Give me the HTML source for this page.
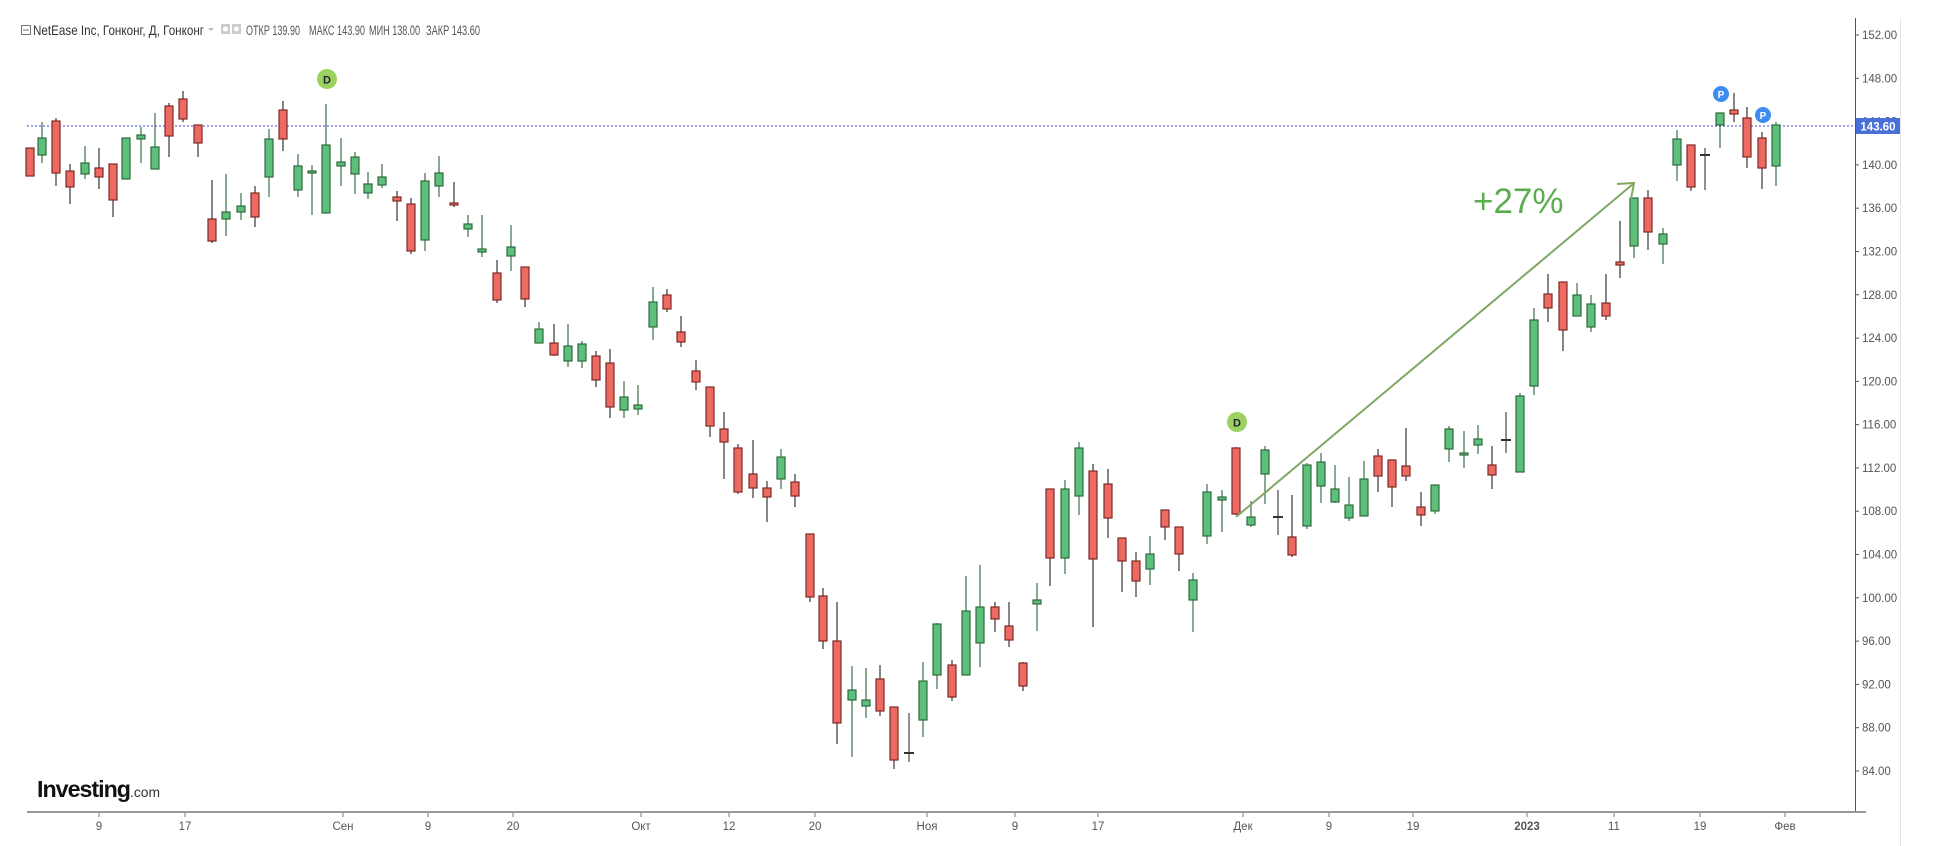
<!DOCTYPE html>
<html><head><meta charset="utf-8"><style>
html,body{margin:0;padding:0;background:#fff;width:1934px;height:846px;overflow:hidden}
svg{display:block}
text{font-family:"Liberation Sans",sans-serif}
</style></head><body>
<svg id="s" width="1934" height="846" xmlns="http://www.w3.org/2000/svg">
<rect width="1934" height="846" fill="#fff"/>
<!-- header -->
<rect x="21.5" y="25.5" width="9" height="9" fill="none" stroke="#777"/>
<line x1="23" y1="30" x2="29" y2="30" stroke="#777"/>
<text x="33" y="35" font-size="14" fill="#333" textLength="171" lengthAdjust="spacingAndGlyphs">NetEase Inc, Гонконг, Д, Гонконг</text>
<path d="M208 28 l3 3 l3 -3z" fill="#bbb"/>
<rect x="221" y="24" width="9" height="10" fill="#ccc"/><rect x="232" y="24" width="9" height="10" fill="#ccc"/>
<circle cx="225.5" cy="29" r="2.5" fill="#fff"/><circle cx="236.5" cy="29" r="2.5" fill="#fff"/>
<g font-size="13.5" fill="#555">
<text x="246" y="35" textLength="54" lengthAdjust="spacingAndGlyphs">ОТКР 139.90</text>
<text x="309" y="35" textLength="56" lengthAdjust="spacingAndGlyphs">МАКС 143.90</text>
<text x="369" y="35" textLength="51" lengthAdjust="spacingAndGlyphs">МИН 138.00</text>
<text x="426" y="35" textLength="54" lengthAdjust="spacingAndGlyphs">ЗАКР 143.60</text>
</g>
<!-- price line -->
<line x1="27" y1="126" x2="1855" y2="126" stroke="#3b46c8" stroke-width="1" stroke-dasharray="2,2"/>
<!-- axes -->
<line x1="1855.5" y1="18" x2="1855.5" y2="812" stroke="#555" stroke-width="1"/>
<line x1="1900.5" y1="18" x2="1900.5" y2="846" stroke="#e4e4e4" stroke-width="1"/>
<line x1="27" y1="812" x2="1866" y2="812" stroke="#999" stroke-width="2"/>
<g id="yl" font-size="11.5" fill="#555"></g>
<g id="xl" font-size="11.5" fill="#555"></g>
<rect x="1856" y="118" width="44" height="16" fill="#4b6fd9"/>
<text x="1878" y="130.5" font-size="11.5" font-weight="bold" fill="#fff" text-anchor="middle">143.60</text>
<g id="c"></g>
<!-- arrow -->
<line x1="1236" y1="517" x2="1633" y2="184" stroke="#7fa862" stroke-width="2"/>
<polyline points="1617,184 1634,183 1631,199" fill="none" stroke="#7fa862" stroke-width="2"/>
<text x="1473" y="213" font-size="35" fill="#5aae4e">+27%</text>
<!-- markers -->
<circle cx="327" cy="79" r="10" fill="#9bd15f"/><text x="327" y="83.5" font-size="11" font-weight="bold" fill="#223" text-anchor="middle">D</text>
<circle cx="1237" cy="422" r="10" fill="#9bd15f"/><text x="1237" y="426.5" font-size="11" font-weight="bold" fill="#223" text-anchor="middle">D</text>
<circle cx="1721" cy="94" r="8" fill="#3d8cf0"/><text x="1721" y="98" font-size="10" font-weight="bold" fill="#fff" text-anchor="middle">P</text>
<circle cx="1763" cy="115" r="8" fill="#3d8cf0"/><text x="1763" y="119" font-size="10" font-weight="bold" fill="#fff" text-anchor="middle">P</text>
<!-- logo -->
<text x="37" y="797" font-size="23" font-weight="bold" fill="#111" textLength="93" lengthAdjust="spacingAndGlyphs" letter-spacing="-1">Investing</text>
<text x="130" y="797" font-size="14" fill="#333" textLength="30" lengthAdjust="spacingAndGlyphs">.com</text>
</svg>
<script>
var NS="http://www.w3.org/2000/svg";
function el(p,t,a,txt){var e=document.createElementNS(NS,t);for(var k in a)e.setAttribute(k,a[k]);if(txt!=null)e.textContent=txt;p.appendChild(e);return e;}
var yl=document.getElementById('yl');
for(var i=0;i<18;i++){var v=152-4*i;var y=35+i*(736/17);
el(yl,'line',{x1:1855,x2:1859,y1:y,y2:y,stroke:'#555'});
el(yl,'text',{x:1862,y:y+4},v.toFixed(2));}
var xl=document.getElementById('xl');
var xs=[[99,'9'],[185,'17'],[343,'Сен'],[428,'9'],[513,'20'],[641,'Окт'],[729,'12'],[815,'20'],[927,'Ноя'],[1015,'9'],[1098,'17'],[1243,'Дек'],[1329,'9'],[1413,'19'],[1527,'2023'],[1614,'11'],[1700,'19'],[1785,'Фев']];
xs.forEach(function(d){el(xl,'line',{x1:d[0],x2:d[0],y1:813,y2:817,stroke:'#777'});
el(xl,'text',{x:d[0],y:830,'text-anchor':'middle','font-weight':d[1]=='2023'?'bold':'normal'},d[1]);});
var C=[[30,148,176,148,176,'r'],[42,138,155,122,163,'g'],[56,121,173,118,186,'r'],[70,171,187,164,204,'r'],[85,163,174,146,179,'g'],[99,168,177,148,189,'r'],[113,164,200,164,217,'r'],[126,138,179,138,179,'g'],[141,135,139,127,163,'g'],[155,147,169,113,169,'g'],[169,106,136,103,157,'r'],[183,99,119,91,122,'r'],[198,125,143,125,157,'r'],[212,219,241,180,243,'r'],[226,212,219,174,236,'g'],[241,206,212,193,220,'g'],[255,193,217,186,227,'r'],[269,139,177,129,197,'g'],[283,110,139,101,151,'r'],[298,166,190,154,197,'g'],[312,171,173,165,215,'g'],[326,145,213,104,213,'g'],[341,162,166,138,186,'g'],[355,157,174,152,194,'g'],[368,184,193,172,199,'g'],[382,177,185,164,188,'g'],[397,197,201,191,221,'r'],[411,204,251,198,254,'r'],[425,181,240,173,251,'g'],[439,173,186,156,197,'g'],[454,203,205,182,207,'r'],[468,224,229,215,237,'g'],[482,249,252,215,257,'g'],[497,273,300,260,303,'r'],[511,247,256,225,271,'g'],[525,267,299,267,307,'r'],[539,329,343,322,343,'g'],[554,343,355,324,356,'r'],[568,346,361,324,367,'g'],[582,344,361,341,368,'g'],[596,356,380,351,387,'r'],[610,363,407,349,418,'r'],[624,397,410,381,418,'g'],[638,405,409,385,415,'g'],[653,302,327,287,340,'g'],[667,295,309,289,312,'r'],[681,332,342,316,347,'r'],[696,371,382,360,390,'r'],[710,387,426,387,437,'r'],[724,429,442,412,479,'r'],[738,448,492,444,494,'r'],[753,474,488,440,498,'r'],[767,488,497,481,522,'r'],[781,457,479,449,489,'g'],[795,482,496,474,507,'r'],[810,534,597,534,602,'r'],[823,596,641,588,649,'r'],[837,641,723,602,744,'r'],[852,690,700,666,757,'g'],[866,700,706,668,718,'g'],[880,679,711,665,716,'r'],[894,707,760,707,769,'r'],[909,752,754,713,762,'d'],[923,681,720,662,737,'g'],[937,624,675,623,689,'g'],[952,665,697,660,701,'r'],[966,611,675,576,675,'g'],[980,607,643,565,667,'g'],[995,607,619,602,632,'r'],[1009,626,640,602,647,'r'],[1023,663,686,662,691,'r'],[1037,600,604,583,631,'g'],[1050,489,558,489,586,'r'],[1065,489,558,480,574,'g'],[1079,448,496,442,515,'g'],[1093,471,559,464,627,'r'],[1108,484,518,469,538,'r'],[1122,538,561,538,592,'r'],[1136,561,581,552,597,'r'],[1150,554,569,536,585,'g'],[1165,510,527,510,540,'r'],[1179,527,554,527,571,'r'],[1193,580,600,573,632,'g'],[1207,492,536,484,544,'g'],[1222,497,500,490,532,'g'],[1236,448,514,447,515,'r'],[1251,517,525,501,527,'g'],[1265,450,474,446,504,'g'],[1278,516,518,490,535,'d'],[1292,537,555,495,557,'r'],[1307,465,526,463,529,'g'],[1321,462,486,453,503,'g'],[1335,489,502,465,503,'g'],[1349,505,518,477,521,'g'],[1364,479,516,461,516,'g'],[1378,456,476,449,492,'r'],[1392,460,487,460,507,'r'],[1406,466,476,428,481,'r'],[1421,507,515,492,526,'r'],[1435,485,511,485,514,'g'],[1449,429,449,426,462,'g'],[1464,453,455,431,468,'g'],[1478,439,445,425,454,'g'],[1492,465,475,446,489,'r'],[1506,439,441,412,453,'d'],[1520,396,472,393,472,'g'],[1534,320,386,308,395,'g'],[1548,294,308,274,322,'r'],[1563,282,330,282,351,'r'],[1577,295,316,283,316,'g'],[1591,304,327,295,332,'g'],[1606,303,316,274,320,'r'],[1620,262,265,221,278,'r'],[1634,198,246,198,258,'g'],[1648,198,232,190,250,'r'],[1663,234,244,228,264,'g'],[1677,139,165,130,181,'g'],[1691,145,187,145,191,'r'],[1705,154,156,148,190,'d'],[1720,113,125,113,148,'g'],[1734,110,114,93,122,'r'],[1747,118,157,107,168,'r'],[1762,138,168,132,189,'r'],[1776,125,166,122,186,'g']];
var g=document.getElementById('c');
C.forEach(function(d){var x=d[0],t=d[1],b=d[2],col=d[5];
var st=col=='g'?'#2f6a3f':(col=='r'?'#7d2a25':'#333');
el(g,'line',{x1:x,x2:x,y1:d[3],y2:d[4],stroke:col=='g'?'#4a7a58':(col=='r'?'#444':'#555'),'stroke-width':1.3});
if(col=='d'){el(g,'line',{x1:x-5,x2:x+5,y1:(t+b)/2,y2:(t+b)/2,stroke:'#333','stroke-width':2});return;}
var h=Math.max(b-t,2);
el(g,'rect',{x:x-4,y:t,width:8,height:h,fill:col=='g'?'#5cbf7a':'#ec6a62',stroke:st,'stroke-width':1.2});});
</script>
</body></html>
